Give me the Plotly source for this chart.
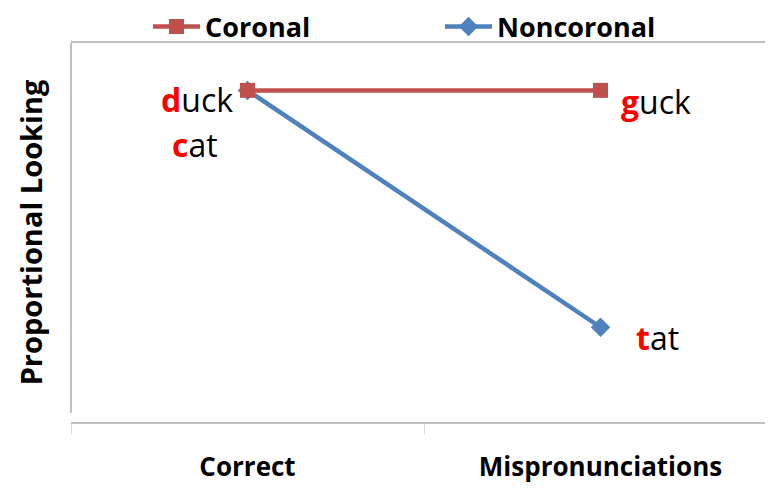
import plotly.graph_objects as go

conditions = ["Correct", "Mispronunciations"]
coronal = [0.75, 0.75]
noncoronal = [0.75, 0.50]

# example words: (first letter, rest) for each point
coronal_words = [("d", "uck"), ("g", "uck")]
noncoronal_words = [("c", "at"), ("t", "at")]

RED = "#C0504D"
BLUE = "#4F81BD"
GRID = "#BFBFBF"
FONT = "Open Sans"

# page body adds an 8px offset, so margins are trimmed by that much
L, T, B = 63, 35, 75
W, H = 773, 489
PX_PER_CAT = 353
plot_w, plot_h = W - L, H - T - B

xs = list(range(len(conditions)))

fig = go.Figure()
# noncoronal first so the coronal line is drawn on top
fig.add_trace(go.Scatter(
    x=xs, y=noncoronal, name="<b>Noncoronal</b>", mode="lines+markers",
    line=dict(color=BLUE, width=4.5),
    marker=dict(symbol="diamond", size=15, color=BLUE),
))
fig.add_trace(go.Scatter(
    x=xs, y=coronal, name="<b>Coronal</b>", mode="lines+markers",
    line=dict(color=RED, width=4.5),
    marker=dict(symbol="square", size=15, color=RED),
))


def word(first, rest):
    return f"<span style='color:red'><b>{first}</b></span>{rest}"


# word labels next to the points
fig.add_annotation(x=xs[0], y=coronal[0], text=word(*coronal_words[0]),
                   xanchor="right", yanchor="middle", xshift=-13, yshift=-9, showarrow=False)
fig.add_annotation(x=xs[0], y=noncoronal[0], text=word(*noncoronal_words[0]),
                   xanchor="right", yanchor="middle", xshift=-28, yshift=-54, showarrow=False)
fig.add_annotation(x=xs[1], y=coronal[1], text=word(*coronal_words[1]),
                   xanchor="left", yanchor="middle", xshift=18, yshift=-11, showarrow=False)
fig.add_annotation(x=xs[1], y=noncoronal[1], text=word(*noncoronal_words[1]),
                   xanchor="left", yanchor="middle", xshift=33, yshift=-10, showarrow=False)
for a in fig.layout.annotations:
    a.font = dict(family=FONT, size=32, color="black")

# left axis line stops short of the category axis
fig.add_shape(type="line", xref="paper", yref="paper", x0=0, x1=0, y0=0.024, y1=1,
              line=dict(color=GRID, width=2))

fig.update_layout(
    width=W, height=H,
    margin=dict(l=L, r=0, t=T, b=B, autoexpand=False),
    paper_bgcolor="white", plot_bgcolor="white",
    font=dict(family=FONT, color="black"),
    showlegend=True,
    legend=dict(
        orientation="h",
        x=(140 - L) / plot_w, xanchor="left",
        y=1 + (T - 19) / plot_h, yanchor="middle",
        bgcolor="rgba(0,0,0,0)",
        font=dict(family=FONT, size=27, color="black"),
        itemwidth=47,
        entrywidth=230, entrywidthmode="pixels",
        traceorder="reversed",
    ),
    xaxis=dict(
        range=[-0.5, plot_w / PX_PER_CAT - 0.5],
        tickvals=xs, ticktext=[f"<b>{c}</b>" for c in conditions],
        ticks="", tickfont=dict(family=FONT, size=26, color="black"),
        ticklabelstandoff=21, automargin=False,
        showline=True, mirror=True, linecolor=GRID, linewidth=2,
        showgrid=False, zeroline=False,
        minor=dict(ticks="outside", tick0=-0.5, dtick=1, ticklen=10,
                   tickcolor="#D9D9D9", tickwidth=1, showgrid=False),
    ),
    yaxis=dict(
        range=[0.4, 0.8], automargin=False,
        showticklabels=False, ticks="", showgrid=False, zeroline=False, showline=False,
        title=dict(text="<b>Proportional Looking</b>", font=dict(family=FONT, size=29, color="black"),
                   standoff=18),
    ),
)

fig.write_html("out.html")
